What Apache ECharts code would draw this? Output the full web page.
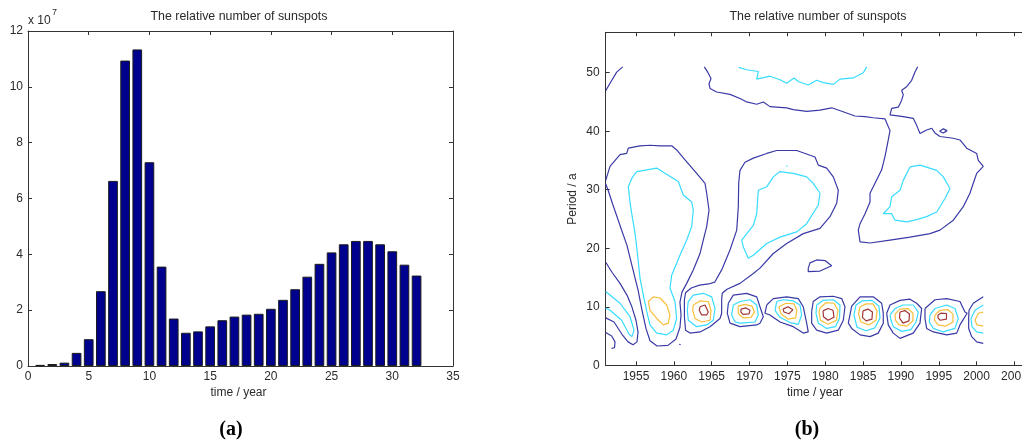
<!DOCTYPE html>
<html><head><meta charset="utf-8">
<script src="https://cdn.jsdelivr.net/npm/echarts@6/dist/echarts.min.js"></script>
<style>html,body{margin:0;padding:0;background:#fff}#c{width:1022px;height:443px}</style>
</head><body><div id="c"></div><script>
// ---------- Panel (a): bar chart data ----------
const barTimes = [1,2,3,4,5,6,7,8,9,10,11,12,13,14,15,16,17,18,19,20,21,22,23,24,25,26,27,28,29,30,31,32];
const barValues = [4.0e5,7.0e5,1.2e6,4.7e6,9.6e6,2.68e7,6.63e7,1.094e8,1.134e8,7.30e7,3.56e7,1.70e7,1.19e7,1.24e7,1.42e7,1.64e7,1.77e7,1.84e7,1.87e7,2.05e7,2.37e7,2.75e7,3.20e7,3.66e7,4.07e7,4.36e7,4.48e7,4.48e7,4.36e7,4.11e7,3.63e7,3.24e7];
const yearTicks = [1955,1960,1965,1970,1975,1980,1985,1990,1995,2000,2005,2010];
const periodTicks = [0,10,20,30,40,50];

// ---------- Panel (b): contour lines [year, period] ----------
// level 0 = dark blue, 1 = cyan, 2 = yellow, 3 = dark red
const blueA = [[1951,46.9],[1951.57,48.2],[1952.45,50.1],[1953.25,51.0]];
const blueB = [[1964.03,51.0],[1964.47,50.1],[1964.91,49.0],[1964.65,48.1],[1964.78,47.3],[1965.66,46.7],[1967.42,46.3],[1968.74,45.6],[1969.63,45.0],[1970.95,44.6],[1971.82,45.0],[1972.70,44.2],[1974.91,44.0],[1975.78,43.7],[1977.55,43.4],[1979.31,43.6],[1980.85,44.0],[1982.18,43.4],[1983.93,42.6],[1985.26,42.5],[1986.35,42.3],[1987.90,42.1],[1988.12,41.8],[1988.56,40.1],[1988.33,38.5],[1987.90,35.7],[1987.46,33.4],[1987.23,32.8],[1986.35,30.5],[1985.92,29.4],[1985.92,27.9],[1985.26,25.9],[1984.60,24.2],[1984.37,23.1],[1984.60,21.1],[1985.92,20.9],[1988.56,21.4],[1991.20,21.9],[1993.84,22.5],[1995.16,23.1],[1996.92,24.8],[1998.24,27.1],[1999.12,29.4],[1999.56,31.1],[2000.01,32.8],[2000.88,34.0],[2000.22,35.0],[2000.01,36.2],[1998.69,37.1],[1997.80,38.5],[1996.92,38.8],[1995.16,39.1],[1994.50,39.7],[1994.07,40.5],[1993.40,40.2],[1992.52,39.6],[1992.08,41.0],[1991.63,42.2],[1990.31,42.5],[1988.56,42.8],[1988.33,43.1],[1988.78,43.9],[1989.65,44.1],[1990.10,45.3],[1990.31,46.2],[1990.10,47.0],[1990.76,47.6],[1991.42,48.7],[1991.86,50.1],[1992.22,51.0]];
const blueSmallTop = [[1995.1,40.0],[1995.6,40.4],[1996.1,40.1],[1995.6,39.7],[1995.1,40.0]];
const blueL1 = [[1951.0,31.6],[1951.57,34.0],[1952.89,36.0],[1953.77,36.2],[1953.99,37.1],[1955.53,37.5],[1956.85,37.6],[1958.17,37.5],[1959.72,37.5],[1960.38,36.8],[1961.48,35.1],[1963.02,32.8],[1964.12,31.1],[1964.34,29.4],[1964.65,26.5],[1964.34,23.7],[1963.89,21.4],[1963.46,19.1],[1962.57,16.3],[1961.70,14.0],[1961.08,12.5],[1960.81,10.8],[1960.95,8.6],[1960.81,6.5],[1960.29,4.5],[1959.23,3.4],[1957.78,3.3],[1956.85,4.2],[1956.32,6.3],[1955.80,9.4],[1955.27,12.9],[1954.61,16.3],[1953.81,20.5],[1952.89,23.9],[1951.96,27.4],[1951.30,30.0],[1951.0,31.0]];
const blueM1 = [[1968.57,31.1],[1968.74,33.3],[1969.40,34.7],[1970.50,35.4],[1972.27,36.2],[1973.59,36.7],[1976.23,36.7],[1978.65,35.6],[1979.09,34.2],[1980.19,33.7],[1981.07,32.2],[1981.73,29.9],[1981.52,27.7],[1980.63,25.4],[1979.31,23.4],[1977.10,22.5],[1974.91,20.8],[1973.14,19.1],[1971.38,16.6],[1970.50,15.7],[1968.74,14.0],[1967.02,13.0],[1966.40,12.3],[1966.32,11.2],[1966.32,8.9],[1966.10,8.0],[1964.78,6.6],[1963.46,5.7],[1962.14,5.5],[1961.55,6.0],[1961.40,8.3],[1961.40,11.2],[1961.55,12.4],[1962.3,13.2],[1963.4,13.7],[1964.6,13.9],[1965.4,14.2],[1966.32,16.3],[1967.42,19.7],[1968.31,23.1],[1968.52,27.1],[1968.57,31.1]];
const blue1969 = [[1967.20,10.6],[1967.86,12.0],[1969.63,12.3],[1970.95,11.7],[1971.38,10.0],[1971.82,8.3],[1971.38,7.2],[1970.95,6.9],[1968.74,6.6],[1967.42,7.2],[1967.06,8.9],[1967.20,10.6]];
const blue1975 = [[1972.27,10.3],[1973.14,11.4],[1974.91,11.7],[1976.44,11.4],[1977.10,10.0],[1977.55,7.2],[1977.76,5.7],[1977.10,5.5],[1975.78,6.6],[1974.03,7.4],[1972.70,8.6],[1972.04,8.9],[1972.27,10.3]];
const blue1980 = [[1978.21,9.2],[1978.42,10.9],[1979.31,11.7],[1981.07,11.8],[1982.18,11.4],[1982.61,10.0],[1982.39,7.7],[1981.73,6.0],[1980.19,5.5],[1978.87,6.0],[1978.21,7.2],[1978.21,9.2]];
const blue1985 = [[1983.05,7.2],[1983.50,10.1],[1984.60,11.7],[1986.35,11.7],[1987.46,10.6],[1987.67,8.9],[1987.67,7.2],[1987.01,5.5],[1985.92,4.9],[1984.60,5.2],[1983.50,6.3],[1983.05,7.2]];
const blue1990 = [[1988.12,8.9],[1988.56,10.3],[1989.88,11.1],[1991.20,11.3],[1992.08,10.6],[1992.74,9.7],[1992.52,7.2],[1991.63,5.5],[1989.88,4.6],[1988.99,5.5],[1988.33,6.9],[1988.12,8.9]];
const blue1995 = [[1993.18,9.7],[1994.50,11.2],[1996.05,11.4],[1997.80,10.9],[1998.46,9.1],[1998.75,8.9],[1997.80,6.9],[1997.37,5.5],[1996.05,5.2],[1994.28,5.7],[1993.40,6.3],[1993.18,8.0],[1993.18,9.7]];
const blue2000 = [[2000.88,11.7],[1999.56,10.6],[1999.0,9.4],[1998.95,8.1],[1998.95,6.3],[1999.35,4.9],[2000.01,4.0],[2000.88,3.75]];
const blueSmallMid = [[1977.76,16.6],[1977.99,17.5],[1978.87,18.0],[1979.97,17.9],[1980.85,17.0],[1979.31,16.1],[1977.76,16.0],[1977.76,16.6]];
const blueEdge = [[1951,17.6],[1951.83,15.9],[1952.89,14.0],[1953.81,12.0],[1954.47,9.95],[1955.00,7.7],[1955.27,5.7],[1955.13,4.0],[1954.61,3.5],[1953.95,4.0],[1953.15,5.3],[1952.10,7.4],[1951,8.1]];
const blueHook = [[1951,5.6],[1951.79,5.0],[1952.23,4.0],[1952.16,3.0],[1951.77,2.9]];
const blueDot = [[1960.72,3.6],[1960.9,3.5]];

const cyanTop = [[1968.57,50.9],[1969.63,50.5],[1971.16,50.2],[1970.95,48.9],[1972.70,49.4],[1974.03,48.8],[1974.91,48.2],[1975.88,49.1],[1976.44,48.5],[1977.76,47.9],[1978.87,48.7],[1979.75,48.3],[1981.07,48.0],[1981.95,48.9],[1983.71,49.1],[1985.03,50.0],[1985.48,51.0]];
const cyanRight = [[1991.20,33.9],[1992.52,34.2],[1994.73,33.3],[1995.60,32.2],[1996.48,30.2],[1995.82,28.5],[1994.73,26.2],[1993.40,25.4],[1992.08,24.9],[1990.76,24.5],[1989.22,24.8],[1988.78,25.9],[1987.67,25.9],[1988.56,27.1],[1988.78,28.8],[1989.88,29.9],[1990.31,31.6],[1991.20,33.9]];
const cyanMid = [[1974.03,33.1],[1975.78,32.8],[1977.55,32.2],[1978.42,31.1],[1979.31,29.4],[1979.09,27.4],[1977.55,24.2],[1976.23,22.8],[1974.03,21.9],[1972.27,20.8],[1970.50,18.8],[1969.84,18.3],[1969.18,20.2],[1968.97,21.4],[1970.50,23.9],[1970.95,25.9],[1971.16,29.9],[1972.27,30.5],[1973.14,32.2],[1974.03,33.1]];
const cyanDot = [[1974.85,34.0],[1975.0,34.1]];
const cyanLeft = [[1955.10,33.1],[1957.74,33.7],[1958.83,32.8],[1960.59,31.4],[1961.25,29.1],[1962.36,27.9],[1962.57,26.5],[1962.36,23.7],[1961.70,21.4],[1960.81,18.8],[1959.72,15.4],[1959.49,13.2],[1960.15,10.9],[1960.38,8.0],[1959.93,6.0],[1959.06,5.2],[1957.74,5.5],[1956.85,6.9],[1956.42,9.2],[1955.97,12.0],[1955.53,14.9],[1955.14,19.7],[1954.87,22.6],[1954.43,26.0],[1954.21,27.9],[1953.99,30.5],[1954.34,31.6],[1954.61,32.3],[1955.10,33.1]];
const cyanEdge = [[1951,12.6],[1952.89,10.6],[1954.21,8.3],[1954.74,6.0],[1954.47,4.9],[1954.08,5.3],[1953.11,7.7],[1951.57,9.4],[1951,9.8]];
const cyan1964 = [[1961.91,10.9],[1962.57,12.0],[1963.89,12.3],[1965.00,11.7],[1965.44,9.7],[1965.21,7.7],[1964.34,6.9],[1963.02,6.6],[1961.91,7.7],[1961.78,9.4],[1961.91,10.9]];
const cyan1969 = [[1967.86,10.3],[1968.74,10.9],[1970.06,11.2],[1970.95,10.3],[1971.16,8.6],[1970.72,7.4],[1968.74,7.2],[1968.08,7.4],[1967.64,8.6],[1967.86,10.3]];
const cyan1975 = [[1973.59,10.9],[1974.46,11.2],[1975.78,11.0],[1976.67,10.3],[1976.89,8.6],[1976.44,7.0],[1975.35,7.3],[1974.03,8.2],[1973.37,9.4],[1973.59,10.9]];
const cyan1980 = [[1978.87,10.3],[1979.75,11.1],[1981.07,11.2],[1981.95,10.3],[1981.89,8.1],[1981.36,6.6],[1980.19,6.3],[1979.09,7.2],[1978.78,8.9],[1978.87,10.3]];
const cyan1985 = [[1984.06,10.3],[1984.86,11.0],[1986.18,11.1],[1987.10,10.1],[1987.24,8.1],[1986.57,6.4],[1985.39,5.9],[1984.20,6.5],[1983.80,8.6],[1984.06,10.3]];
const cyan1990 = [[1988.56,8.6],[1989.22,9.7],[1990.31,10.3],[1991.63,10.3],[1992.30,9.1],[1991.99,7.4],[1991.33,6.1],[1990.10,5.8],[1988.99,6.6],[1988.69,7.7],[1988.56,8.6]];
const cyan1995 = [[1993.84,8.6],[1994.50,9.7],[1996.05,10.3],[1997.14,9.7],[1997.58,8.0],[1997.14,6.3],[1995.60,5.7],[1994.28,6.3],[1993.75,7.4],[1993.84,8.6]];
const cyan2000 = [[2000.88,10.3],[1999.79,9.4],[1999.26,8.0],[1999.39,6.6],[2000.01,5.7],[2000.88,5.5]];

const yellow1958 = [[1956.63,10.9],[1957.29,11.7],[1958.17,11.5],[1959.06,10.3],[1959.49,8.6],[1959.27,7.2],[1958.61,6.9],[1957.74,8.0],[1956.85,9.4],[1956.63,10.9]];
const yellow1964 = [[1962.57,10.3],[1963.46,11.0],[1964.55,10.9],[1964.91,9.4],[1964.78,7.7],[1963.68,7.4],[1962.80,8.0],[1962.49,9.4],[1962.57,10.3]];
const yellow1969 = [[1968.48,10.1],[1969.40,10.4],[1970.33,10.1],[1970.66,9.1],[1970.19,8.2],[1969.14,8.1],[1968.54,8.8],[1968.48,10.1]];
const yellow1975 = [[1973.89,10.0],[1974.82,10.6],[1975.87,10.5],[1976.25,9.4],[1976.10,8.1],[1975.08,7.9],[1974.16,8.8],[1973.89,10.0]];
const yellow1980 = [[1979.31,9.8],[1980.10,10.7],[1981.16,10.6],[1981.69,9.4],[1981.49,7.7],[1980.37,7.0],[1979.38,7.7],[1979.18,9.1],[1979.31,9.8]];
const yellow1985 = [[1984.59,9.95],[1985.39,10.5],[1986.31,10.5],[1986.84,9.3],[1986.71,7.7],[1985.78,6.9],[1984.73,7.4],[1984.40,8.75],[1984.59,9.95]];
const yellow1990 = [[1989.22,8.75],[1989.88,9.6],[1990.93,9.7],[1991.59,8.9],[1991.59,7.6],[1990.80,6.7],[1989.75,6.9],[1989.28,7.7],[1989.22,8.75]];
const yellow1995 = [[1994.50,8.6],[1995.16,9.4],[1996.22,9.5],[1996.88,8.75],[1996.88,7.4],[1995.95,6.7],[1994.90,6.9],[1994.43,7.7],[1994.50,8.6]];
const yellow2000 = [[2000.88,9.1],[2000.22,8.9],[1999.79,7.7],[2000.05,6.9],[2000.88,6.7]];

const red1964 = [[1963.46,10.0],[1964.12,10.3],[1964.55,9.1],[1964.34,8.6],[1963.68,8.6],[1963.36,9.4],[1963.46,10.0]];
const red1969 = [[1968.87,9.6],[1969.53,9.8],[1970.06,9.4],[1969.93,8.8],[1969.14,8.7],[1968.87,9.1],[1968.87,9.6]];
const red1975 = [[1974.42,9.6],[1975.08,10.0],[1975.74,9.5],[1975.21,8.8],[1974.55,9.1],[1974.42,9.6]];
const red1980 = [[1979.71,9.3],[1980.37,9.7],[1981.03,9.4],[1981.16,8.2],[1980.37,7.7],[1979.77,8.3],[1979.71,9.3]];
const red1985 = [[1984.99,9.3],[1985.65,9.6],[1986.24,9.1],[1986.18,7.9],[1985.39,7.6],[1984.92,8.2],[1984.99,9.3]];
const red1990 = [[1989.88,9.1],[1990.54,9.35],[1991.13,8.75],[1991.07,7.6],[1990.27,7.2],[1989.81,8.1],[1989.88,9.1]];
const red1995 = [[1994.90,8.6],[1995.29,8.9],[1996.02,8.85],[1996.02,7.9],[1995.16,7.7],[1994.90,8.1],[1994.90,8.6]];

const levelColors = ['#3a3aa6', '#38dcff', '#f8bf3a', '#a23636'];
const contours = [
  [0, blueA],[0, blueB],[0, blueSmallTop],[0, blueL1],[0, blueM1],[0, blue1969],[0, blue1975],[0, blue1980],[0, blue1985],[0, blue1990],[0, blue1995],[0, blue2000],[0, blueSmallMid],[0, blueEdge],[0, blueHook],[0, blueDot],
  [1, cyanTop],[1, cyanRight],[1, cyanMid],[1, cyanDot],[1, cyanLeft],[1, cyanEdge],[1, cyan1964],[1, cyan1969],[1, cyan1975],[1, cyan1980],[1, cyan1985],[1, cyan1990],[1, cyan1995],[1, cyan2000],
  [2, yellow1958],[2, yellow1964],[2, yellow1969],[2, yellow1975],[2, yellow1980],[2, yellow1985],[2, yellow1990],[2, yellow1995],[2, yellow2000],
  [3, red1964],[3, red1969],[3, red1975],[3, red1980],[3, red1985],[3, red1990],[3, red1995]
];

// ---------- chart ----------
const FONT = '"Liberation Sans", Arial, Helvetica, sans-serif';
const LBL = '#2b2b2b';
const AX = '#333';
function axis(o) {
  return Object.assign({
    type: 'value',
    axisLine: { show: true, onZero: false, lineStyle: { color: AX, width: 1 } },
    axisTick: { show: true, inside: true, length: 4, lineStyle: { color: AX, width: 1 } },
    axisLabel: { show: true, margin: 5, color: LBL, fontSize: 12, fontFamily: FONT },
    splitLine: { show: false }
  }, o);
}
const chart = echarts.init(document.getElementById('c'), null, { renderer: 'canvas' });
const series = [{
  type: 'bar', xAxisIndex: 0, yAxisIndex: 0,
  data: barTimes.map((t, i) => [t, barValues[i]]),
  barWidth: 9.7,
  itemStyle: { color: '#00008f', borderColor: '#1c1c1c', borderWidth: 1 },
  silent: true, animation: false
}];
contours.forEach(([lvl, pts]) => {
  series.push({
    type: 'line', xAxisIndex: 2, yAxisIndex: 2, data: pts,
    symbol: 'none', showSymbol: false, smooth: false,
    lineStyle: { color: levelColors[lvl], width: 1.2 },
    silent: true, animation: false
  });
});
const txt = (x, y, text, extra) => ({
  type: 'text', x: x, y: y, silent: true,
  style: Object.assign({ text: text, fill: LBL, fontSize: 12, fontFamily: FONT, align: 'center', verticalAlign: 'middle', textAlign: 'center', textVerticalAlign: 'middle' }, extra || {})
});
const plain = v => String(Math.round(v));
chart.setOption({
  animation: false,
  backgroundColor: '#fff',
  grid: [
    { left: 28, top: 31, width: 425, height: 335, show: false, containLabel: false, outerBoundsMode: 'none' },
    { left: 605.7, top: 32.3, width: 446.6, height: 333, show: false, containLabel: false, outerBoundsMode: 'none' }
  ],
  xAxis: [
    axis({ gridIndex: 0, min: 0, max: 35, interval: 5, position: 'bottom' }),
    axis({ gridIndex: 0, min: 0, max: 35, interval: 5, position: 'top', axisLabel: { show: false } }),
    axis({ gridIndex: 1, min: 1951, max: 2010, position: 'bottom',
      axisTick: { show: true, inside: true, length: 4, customValues: yearTicks, lineStyle: { color: AX } },
      axisLabel: { show: true, margin: 5, color: LBL, fontSize: 12, fontFamily: FONT, customValues: yearTicks, formatter: plain, hideOverlap: false } }),
    axis({ gridIndex: 1, min: 1951, max: 2010, position: 'top',
      axisTick: { show: true, inside: true, length: 4, customValues: yearTicks, lineStyle: { color: AX } },
      axisLabel: { show: false } })
  ],
  yAxis: [
    axis({ gridIndex: 0, min: 0, max: 1.2e8, interval: 2e7, position: 'left',
      axisLabel: { show: true, margin: 5, color: LBL, fontSize: 12, fontFamily: FONT, formatter: v => String(Math.round(v / 1e7)) } }),
    axis({ gridIndex: 0, min: 0, max: 1.2e8, interval: 2e7, position: 'right', axisLabel: { show: false } }),
    axis({ gridIndex: 1, min: 0, max: 56.9, position: 'left',
      axisTick: { show: true, inside: true, length: 4, customValues: periodTicks, lineStyle: { color: AX } },
      axisLabel: { show: true, margin: 6, color: LBL, fontSize: 12, fontFamily: FONT, customValues: periodTicks, formatter: plain } }),
    axis({ gridIndex: 1, min: 0, max: 56.9, position: 'right',
      axisTick: { show: true, inside: true, length: 4, customValues: periodTicks, lineStyle: { color: AX } },
      axisLabel: { show: false } })
  ],
  graphic: [
    txt(239, 17, 'The relative number of sunspots', { fontSize: 12.4 }),
    txt(818, 17, 'The relative number of sunspots', { fontSize: 12.4 }),
    txt(28, 21, 'x 10', { align: 'left', textAlign: 'left' }),
    txt(54.5, 13, '7', { fontSize: 9 }),
    txt(238.5, 393, 'time / year'),
    txt(815, 393, 'time / year'),
    Object.assign(txt(573, 199, 'Period / a'), { rotation: Math.PI / 2 }),
    txt(231, 430, '(a)', { fontSize: 20, fontWeight: 'bold', fontFamily: '"Liberation Serif", "DejaVu Serif", serif', fill: '#000' }),
    txt(807, 430, '(b)', { fontSize: 20, fontWeight: 'bold', fontFamily: '"Liberation Serif", "DejaVu Serif", serif', fill: '#000' })
  ],
  series: series
});
</script></body></html>
